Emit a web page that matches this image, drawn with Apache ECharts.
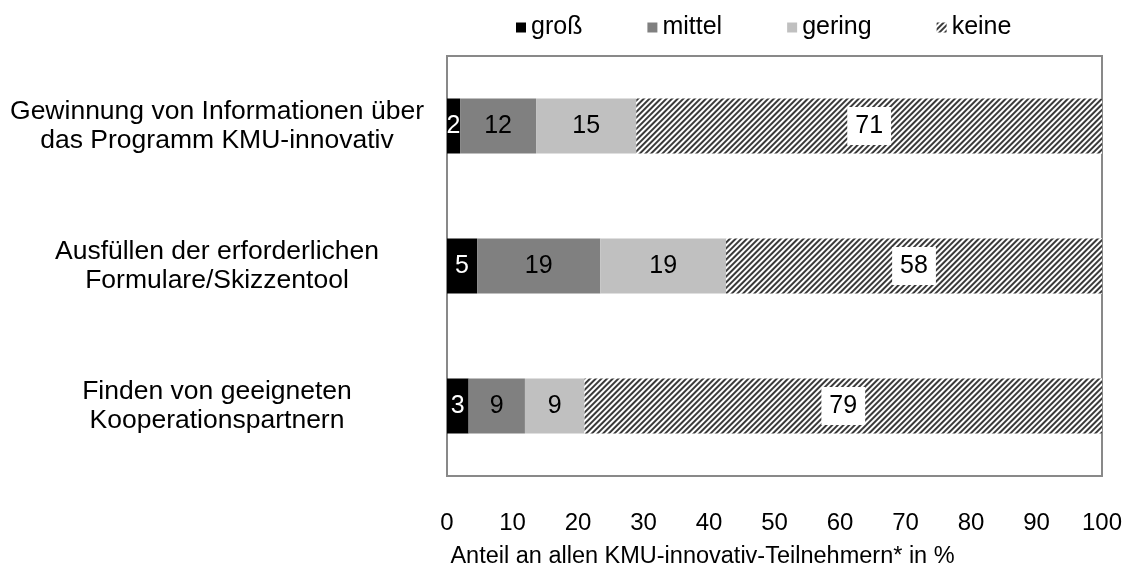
<!DOCTYPE html>
<html>
<head>
<meta charset="utf-8">
<script src="https://cdn.jsdelivr.net/npm/echarts@6/dist/echarts.min.js"></script>
<style>html,body{margin:0;padding:0;background:#fff;}#c{width:1130px;height:566px;}</style>
</head>
<body>
<div id="c"></div>
<script>
const categories = [
  'Gewinnung von Informationen über\ndas Programm KMU-innovativ',
  'Ausfüllen der erforderlichen\nFormulare/Skizzentool',
  'Finden von geeigneten\nKooperationspartnern'
];
const seriesNames = ['groß', 'mittel', 'gering', 'keine'];
const gross = [2.0, 4.6, 3.3];
const mittel = [11.6, 18.8, 8.6];
const gering = [15.3, 19.2, 9.1];
const keine = [71.2, 57.6, 79.0];
const xTicks = [0, 10, 20, 30, 40, 50, 60, 70, 80, 90, 100];
const xAxisTitle = 'Anteil an allen KMU-innovativ-Teilnehmern* in %';

const FONT = 'Liberation Sans, Arial, sans-serif';
const fmt = p => String(Math.round(p.value));

const chart = echarts.init(document.getElementById('c'), null, {renderer: 'canvas'});
const barW = 55;
function mk(name, data, color, labelColor, extra) {
  return Object.assign({
    name: name, type: 'bar', stack: 'all', data: data, barWidth: barW,
    itemStyle: {color: color},
    label: {show: true, position: 'inside', formatter: fmt, color: labelColor,
            fontFamily: FONT, fontSize: 25},
    emphasis: {disabled: true},
    animation: false
  }, extra || {});
}
chart.setOption({
  animation: false,
  legend: {
    top: 10, left: 511,
    itemWidth: 10, itemHeight: 10, itemGap: 65,
    icon: 'rect',
    textStyle: {fontFamily: FONT, fontSize: 25, color: '#000'},
    data: seriesNames
  },
  grid: {
    left: 447, right: 28, top: 56, bottom: 90,
    outerBoundsMode: 'none',
    show: true, borderColor: '#898989', borderWidth: 2, backgroundColor: 'transparent'
  },
  xAxis: {
    type: 'value', min: xTicks[0], max: xTicks[xTicks.length - 1], interval: 10,
    axisLine: {show: false}, axisTick: {show: false}, splitLine: {show: false},
    axisLabel: {color: '#000', fontFamily: FONT, fontSize: 24, margin: 35},
    name: xAxisTitle, nameLocation: 'middle', nameGap: 69,
    nameTextStyle: {color: '#000', fontFamily: FONT, fontSize: 23.5, padding: [0, 144, 0, 0]}
  },
  yAxis: {
    type: 'category', data: categories, inverse: true,
    axisLine: {show: false}, axisTick: {show: false}, splitLine: {show: false},
    axisLabel: {color: '#000', fontFamily: FONT, fontSize: 26.5, lineHeight: 29, align: 'center', margin: 230}
  },
  series: [
    mk(seriesNames[0], gross, '#000000', '#ffffff'),
    mk(seriesNames[1], mittel, '#808080', '#000000'),
    mk(seriesNames[2], gering, '#c0c0c0', '#000000'),
    mk(seriesNames[3], keine, '#ffffff', '#000000', {
      itemStyle: {
        color: '#ffffff',
        decal: {symbol: 'rect', symbolSize: 1, color: '#3a3a3a', backgroundColor: '#ffffff',
                dashArrayX: [1, 0], dashArrayY: [1.4, 1.4], rotation: -Math.PI / 4}
      },
      label: {show: true, position: 'inside', formatter: fmt, color: '#000',
              fontFamily: FONT, fontSize: 25, backgroundColor: '#ffffff', padding: [7, 8, 6, 8]}
    })
  ]
});
</script>
</body>
</html>
